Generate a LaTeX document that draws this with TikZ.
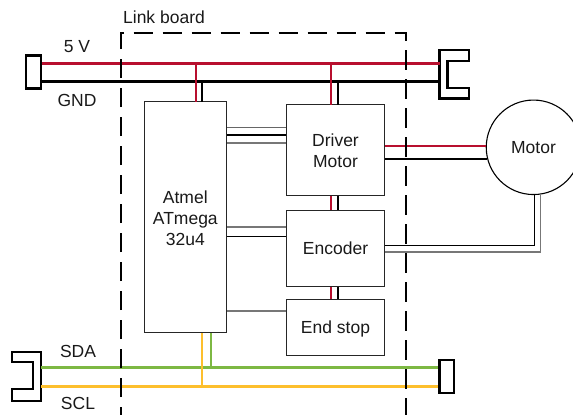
\documentclass[tikz,border=0pt]{standalone}
\usepackage{fontspec}
\setmainfont{Liberation Sans}
\definecolor{wirered}{HTML}{B80F2E}
\definecolor{wiregreen}{HTML}{7DB843}
\definecolor{wireyellow}{HTML}{FDBF2D}
\definecolor{wiregray}{HTML}{777777}
\begin{document}
\begin{tikzpicture}[x=1pt, y=-1pt,
    every node/.style={font=\fontsize{17.5}{21}\selectfont, align=center, text=black!90},
    block/.style={draw=black!85, rectangle, inner sep=0pt, line width=1.1pt},
    plug/.style={draw, rectangle, inner sep=0pt, line width=2.2pt},
    power/.style={line width=3pt},
    feed/.style={line width=2pt},
    signal/.style={line width=1.1pt}]
    \useasboundingbox (0,0) rectangle (573,415);

    % Blocks
    \node (atmel) [block, text height=56.6pt, minimum width=82.5pt, minimum height=231pt] at (185.3,217.3) {Atmel\\ATmega\\32u4};
    \node (driver) [block, text height=35.6pt, minimum width=98.5pt, minimum height=91pt] at (335.5,150) {Driver\\Motor};
    \node (encoder) [block, minimum width=98.5pt, minimum height=76.5pt] at (335.5,248.3) {Encoder};
    \node (endstop) [block, text depth=0pt, minimum width=98.5pt, minimum height=55.5pt] at (335.5,327.3) {End stop};
    \node (motor) [draw, circle, inner sep=0pt, minimum size=94.5pt, line width=1.1pt] at (533.5,147.3) {Motor};

    % Connectors
    \node (plugpower) [plug, minimum width=15pt, minimum height=33pt] at (33.5,72) {};
    \node (plugbus) [plug, minimum width=14.5pt, minimum height=33.5pt] at (446.7,376.5) {};
    \draw[line width=2.2pt, line join=miter] (439.5,50) -- (469,50) -- (469,61) -- (447.5,61) -- (447.5,88) -- (469,88) -- (469,98.5) -- (439.5,98.5) -- cycle;
    \draw[line width=2.2pt, line join=miter] (41,351.7) -- (11.7,351.7) -- (11.7,362.3) -- (33,362.3) -- (33,389.3) -- (11.7,389.3) -- (11.7,400.7) -- (41,400.7) -- cycle;
    \coordinate (powerend) at (439.5,72);
    \coordinate (busstart) at (41,376.5);

    % Labels
    \node (linkboard) at (164,17) {Link board};
    \node (fivev) at (77,47) {5 V};
    \node (gnd) at (77,100) {GND};
    \node (sda) at (78,351) {SDA};
    \node (scl) at (78,403) {SCL};

    % Power rails
    \draw[power, wirered] (plugpower.east |- 0,63) -- (powerend |- 0,63);
    \draw[power, black] (plugpower.east |- 0,81.7) -- (powerend |- 0,81.7);
    \draw[power, wiregreen] (busstart |- 0,367.3) -- (plugbus.west |- 0,367.3);
    \draw[power, wireyellow] (busstart |- 0,386.3) -- (plugbus.west |- 0,386.3);

    % Feeds
    \draw[feed, wirered] (195.5,63) -- (195.5,102);
    \draw[feed, black] (202,81.7) -- (202,102);
    \draw[feed, wirered] (331.3,63) -- (331.3,104.5);
    \draw[feed, black] (338.3,81.7) -- (338.3,104.5);
    \draw[feed, wirered] (driver.south -| 331.3,0) -- (encoder.north -| 331.3,0);
    \draw[feed, black] (driver.south -| 338.3,0) -- (encoder.north -| 338.3,0);
    \draw[feed, wirered] (encoder.south -| 331.3,0) -- (endstop.north -| 331.3,0);
    \draw[feed, black] (encoder.south -| 338.3,0) -- (endstop.north -| 338.3,0);
    \draw[feed, wireyellow] (atmel.south -| 202,0) -- (202,386.3);
    \draw[feed, wiregreen] (atmel.south -| 211,0) -- (211,367.3);

    % Signals
    \draw[signal, black!60] (atmel.east |- 0,127.5) -- (driver.west |- 0,127.5);
    \draw[signal, black] (atmel.east |- 0,135) -- (driver.west |- 0,135);
    \draw[signal, wiregray] (atmel.east |- 0,143) -- (driver.west |- 0,143);
    \draw[signal, wiregray] (atmel.east |- 0,227) -- (encoder.west |- 0,227);
    \draw[signal, black] (atmel.east |- 0,236.3) -- (encoder.west |- 0,236.3);
    \draw[signal, wiregray] (atmel.east |- 0,311) -- (endstop.west |- 0,311);

    % Motor wires
    \draw[feed, wirered] (driver.east |- 0,146) -- (motor.west |- 0,146);
    \draw[feed, black] (driver.east |- 0,158.5) -- (486.8,158.5);
    \draw[signal, black] (encoder.east |- 0,245.3) -| (534.3,194.5);
    \draw[signal, wiregray] (encoder.east |- 0,252) -| (540.7,194);

    % Board outline
    \draw[line width=2pt, black, dash pattern=on 19.5pt off 9.5pt, dash phase=11pt] (120.5,415) -- (120.5,33) -- (406.3,33) -- (406.3,415);
\end{tikzpicture}
\end{document}
